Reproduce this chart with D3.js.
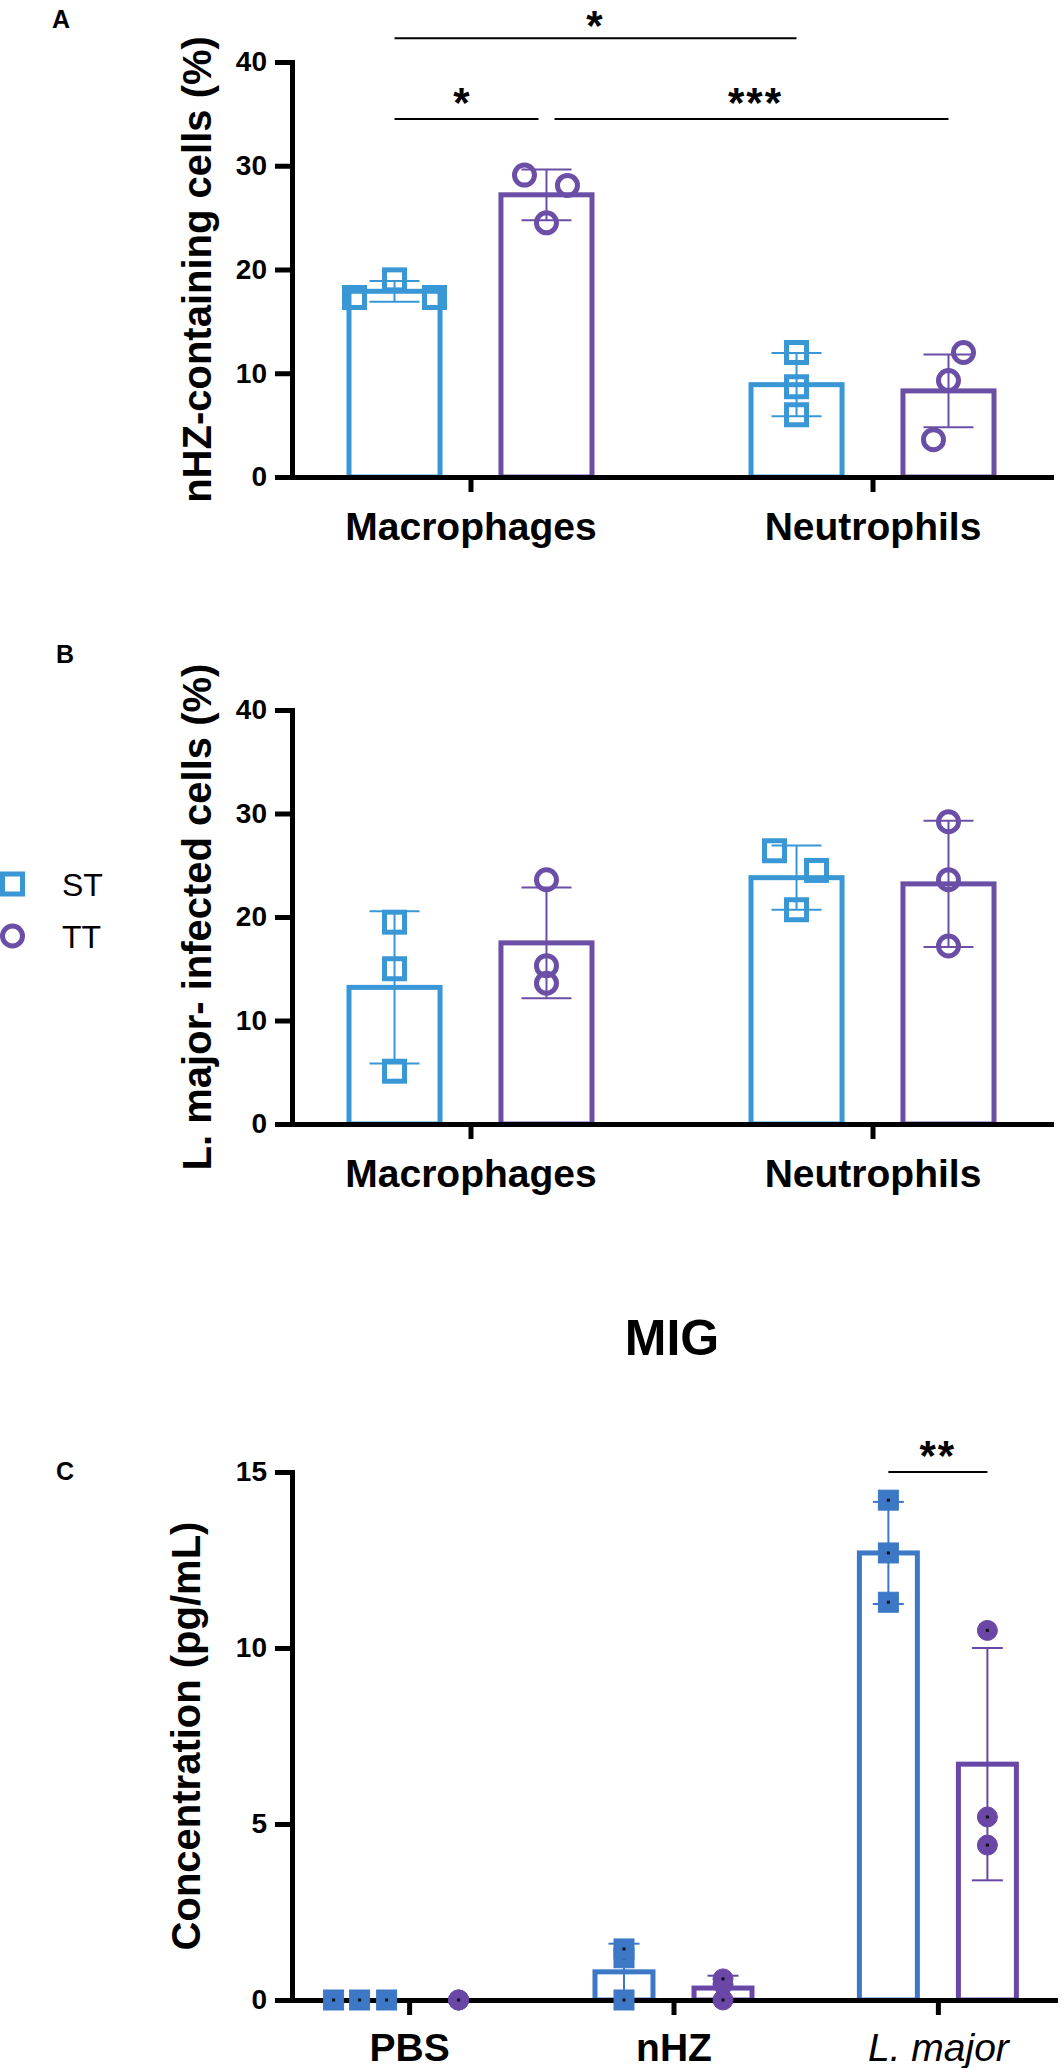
<!DOCTYPE html>
<html>
<head>
<meta charset="utf-8">
<script src="https://cdn.jsdelivr.net/npm/d3@7"></script>
<style>
  body { margin: 0; background: #fff; }
  svg { display: block; font-family: "Liberation Sans", Arial, Helvetica, sans-serif; }
</style>
</head>
<body>
<svg id="chart" width="1063" height="2068"></svg>
<script>
// ---- data ----
const seriesNames = ["ST", "TT"];
const cellGroups = ["Macrophages", "Neutrophils"];

// A: nHZ-containing cells (%)
const nhzPtsST = [[17.3, 19.0, 17.3], [12.0, 8.7, 6.0]];
const nhzPtsTT = [[29.1, 28.1, 24.5], [12.0, 9.3, 3.6]];
const nhzMeanST = [17.9, 8.9];
const nhzSdST = [1.0, 3.05];
const nhzMeanTT = [27.2, 8.3];
const nhzSdTT = [2.45, 3.5];

// B: L. major- infected cells (%)
const infPtsST = [[19.5, 15.0, 5.1], [26.4, 24.5, 20.7]];
const infPtsTT = [[23.6, 15.3, 13.6], [29.2, 23.6, 17.2]];
const infMeanST = [13.2, 23.8];
const infSdST = [7.35, 3.1];
const infMeanTT = [17.5, 23.2];
const infSdTT = [5.35, 6.1];

// C: MIG concentration (pg/mL)
const migGroups = ["PBS", "nHZ", "L. major"];
const migPtsST = [[0, 0, 0], [0, 1.2, 1.45], [14.2, 12.7, 11.3]];
const migPtsTT = [[0, 0, 0], [0, 0.45, 0.6], [10.5, 5.2, 4.4]];
const migMeanST = [0, 0.8, 12.7];
const migSdST = [0, 0.8, 1.45];
const migMeanTT = [0, 0.34, 6.7];
const migSdTT = [0, 0.35, 3.3];

const ticks40 = [0, 10, 20, 30, 40];
const ticks15 = [0, 5, 10, 15];

// significance brackets (level in data units)
const sigA = [
  {a: ["Macrophages", "ST"], b: ["Neutrophils", "ST"], level: 42.3, text: "*", trim: [0, 0]},
  {a: ["Macrophages", "ST"], b: ["Macrophages", "TT"], level: 34.5, text: "*", trim: [0, 8]},
  {a: ["Macrophages", "TT"], b: ["Neutrophils", "TT"], level: 34.5, text: "***", trim: [8, 0]}
];
const sigC = [
  {a: ["L. major", "ST"], b: ["L. major", "TT"], level: 15, text: "**", trim: [0, 0]}
];

// ---- layout / style ----
const blueAB = "#3a97d5";
const purpleAB = "#6b4fa6";
const blueC = "#3c78c6";
const purpleC = "#6a47a6";
const fontBold = "bold";

const svg = d3.select("#chart");
svg.append("rect").attr("width", 1063).attr("height", 2068).attr("fill", "#fff");

function drawPanel(p) {
  const g = svg.append("g");
  const y = d3.scaleLinear().domain(p.yDomain).range(p.yRange);
  const x = d3.scalePoint().domain(p.groups).range(p.xRange).padding(p.outerPad);
  const xs = d3.scaleBand().domain(seriesNames)
    .range([-p.groupWidth / 2, p.groupWidth / 2]).paddingInner(p.innerPad);
  const cx = (grp, name) => x(grp) + xs(name) + xs.bandwidth() / 2;
  const sw = p.barStroke;

  // bars
  p.series.forEach(s => {
    p.groups.forEach((grp, gi) => {
      const m = s.mean[gi];
      if (m <= 0) return;
      g.append("rect")
        .attr("x", x(grp) + xs(s.name) + sw / 2)
        .attr("y", y(m))
        .attr("width", xs.bandwidth() - sw)
        .attr("height", y(0) - y(m))
        .attr("fill", "none")
        .attr("stroke", s.color)
        .attr("stroke-width", sw);
    });
  });

  // error bars (mean +/- SD)
  p.series.forEach(s => {
    p.groups.forEach((grp, gi) => {
      const m = s.mean[gi], sd = s.sd[gi];
      if (sd <= 0) return;
      const c = cx(grp, s.name);
      const top = y(m + sd), bot = y(Math.max(0, m - sd));
      g.append("line").attr("x1", c).attr("x2", c).attr("y1", top).attr("y2", bot)
        .attr("stroke", s.color).attr("stroke-width", 2);
      [m + sd, m - sd].forEach(v => {
        if (v < 0) return;
        g.append("line")
          .attr("x1", c - p.capWidth / 2).attr("x2", c + p.capWidth / 2)
          .attr("y1", y(v)).attr("y2", y(v))
          .attr("stroke", s.color).attr("stroke-width", 2);
      });
    });
  });

  // axes
  const yAxis = d3.axisLeft(y).tickValues(p.ticks).tickSize(17).tickPadding(8).tickSizeOuter(0);
  const ya = g.append("g").attr("transform", `translate(${p.xRange[0]},0)`).call(yAxis);
  ya.select(".domain").attr("stroke", "#000").attr("stroke-width", 5).attr("stroke-linecap", "square");
  ya.selectAll(".tick line").attr("stroke", "#000").attr("stroke-width", 5);
  ya.selectAll(".tick text").attr("fill", "#000").attr("font-size", 28)
    .attr("font-weight", fontBold).attr("font-family", "'Liberation Sans', Arial, sans-serif");

  const xAxis = d3.axisBottom(x).tickSize(15).tickPadding(p.labelPad).tickSizeOuter(0);
  const xa = g.append("g").attr("transform", `translate(0,${y(0)})`).call(xAxis);
  xa.select(".domain").attr("stroke", "#000").attr("stroke-width", 5).attr("stroke-linecap", "square");
  xa.selectAll(".tick line").attr("stroke", "#000").attr("stroke-width", 5);
  xa.selectAll(".tick text").attr("fill", "#000").attr("font-size", 39)
    .attr("font-family", "'Liberation Sans', Arial, sans-serif")
    .attr("font-weight", d => p.italic.includes(d) ? "normal" : fontBold)
    .attr("font-style", d => p.italic.includes(d) ? "italic" : "normal");

  // data points
  p.series.forEach(s => {
    p.groups.forEach((grp, gi) => {
      s.pts[gi].forEach((v, k) => {
        const px = cx(grp, s.name) + s.jitter[gi][k];
        const py = y(v);
        if (s.shape === "square") {
          g.append("rect")
            .attr("x", px - p.sym / 2).attr("y", py - p.sym / 2)
            .attr("width", p.sym).attr("height", p.sym)
            .attr("fill", p.filled ? s.color : "none")
            .attr("stroke", s.color).attr("stroke-width", p.symStroke);
        } else {
          g.append("circle")
            .attr("cx", px).attr("cy", py).attr("r", p.sym / 2)
            .attr("fill", p.filled ? s.color : "none")
            .attr("stroke", s.color).attr("stroke-width", p.symStroke);
        }
        if (p.filled) {
          g.append("rect").attr("x", px - 1.5).attr("y", py - 1.5)
            .attr("width", 3).attr("height", 3).attr("fill", "#111");
        }
      });
    });
  });

  // significance brackets
  p.sig.forEach(b => {
    const x1 = cx(b.a[0], b.a[1]) + b.trim[0];
    const x2 = cx(b.b[0], b.b[1]) - b.trim[1];
    const ly = y(b.level);
    g.append("line").attr("x1", x1).attr("x2", x2).attr("y1", ly).attr("y2", ly)
      .attr("stroke", "#000").attr("stroke-width", 2);
    // keep the star's text box inside the page
    g.append("text").attr("x", (x1 + x2) / 2 + (b.trim[0] - b.trim[1]) / 2).attr("y", Math.max(ly - 2, 40))
      .attr("text-anchor", "middle").attr("font-size", 42).attr("font-weight", fontBold)
      .attr("letter-spacing", 2)
      .text(b.text);
  });

  // y title
  g.append("text")
    .attr("transform", `translate(${p.titleX},${(p.yRange[0] + p.yRange[1]) / 2}) rotate(-90)`)
    .attr("text-anchor", "middle").attr("font-size", 40).attr("font-weight", fontBold)
    .text(p.title);

  // panel letter
  g.append("text").attr("x", p.letterPos[0]).attr("y", p.letterPos[1])
    .attr("font-size", 25).attr("font-weight", fontBold).text(p.letter);
}

const jitterZero = [[0, 0, 0], [0, 0, 0], [0, 0, 0]];

drawPanel({
  letter: "A", letterPos: [52, 28],
  title: "nHZ-containing cells (%)", titleX: 211,
  groups: cellGroups, yDomain: [0, 40], yRange: [477, 62], ticks: ticks40,
  xRange: [292, 1051], outerPad: 0.444, groupWidth: 248, innerPad: 0.368,
  barStroke: 5, capWidth: 50, sym: 20, symStroke: 5, filled: false, labelPad: 20, italic: [],
  series: [
    {name: "ST", color: blueAB, shape: "square", mean: nhzMeanST, sd: nhzSdST, pts: nhzPtsST,
     jitter: [[-40, 0, 40], [0, 0, 0]]},
    {name: "TT", color: purpleAB, shape: "circle", mean: nhzMeanTT, sd: nhzSdTT, pts: nhzPtsTT,
     jitter: [[-22, 21, 0], [15, 0, -15]]}
  ],
  sig: sigA
});

drawPanel({
  letter: "B", letterPos: [56, 663],
  title: "L. major- infected cells (%)", titleX: 211,
  groups: cellGroups, yDomain: [0, 40], yRange: [1124, 710], ticks: ticks40,
  xRange: [292, 1051], outerPad: 0.444, groupWidth: 248, innerPad: 0.368,
  barStroke: 5, capWidth: 50, sym: 20, symStroke: 5, filled: false, labelPad: 20, italic: [],
  series: [
    {name: "ST", color: blueAB, shape: "square", mean: infMeanST, sd: infSdST, pts: infPtsST,
     jitter: [[0, 0, 0], [-22, 20, 0]]},
    {name: "TT", color: purpleAB, shape: "circle", mean: infMeanTT, sd: infSdTT, pts: infPtsTT,
     jitter: jitterZero}
  ],
  sig: []
});

drawPanel({
  letter: "C", letterPos: [56, 1480],
  title: "Concentration (pg/mL)", titleX: 200,
  groups: migGroups, yDomain: [0, 15], yRange: [2000, 1472], ticks: ticks15,
  xRange: [292, 1055], outerPad: 0.443, groupWidth: 162, innerPad: 0.364,
  barStroke: 5, capWidth: 31, sym: 20, symStroke: 1, filled: true, labelPad: 18, italic: ["L. major"],
  series: [
    {name: "ST", color: blueC, shape: "square", mean: migMeanST, sd: migSdST, pts: migPtsST,
     jitter: [[-26, 0, 27], [0, 0, 0], [0, 0, 0]]},
    {name: "TT", color: purpleC, shape: "circle", mean: migMeanTT, sd: migSdTT, pts: migPtsTT,
     jitter: jitterZero}
  ],
  sig: sigC
});

// MIG title
svg.append("text").attr("x", 672).attr("y", 1355).attr("text-anchor", "middle")
  .attr("font-size", 50).attr("font-weight", fontBold).text("MIG");

// legend
const legend = svg.append("g");
const legendItems = [
  {name: "ST", color: blueAB, shape: "square"},
  {name: "TT", color: purpleAB, shape: "circle"}
];
legendItems.forEach((d, i) => {
  const ly = 884 + i * 52;
  if (d.shape === "square") {
    legend.append("rect").attr("x", 2.5).attr("y", ly - 10).attr("width", 20).attr("height", 20)
      .attr("fill", "none").attr("stroke", d.color).attr("stroke-width", 5);
  } else {
    legend.append("circle").attr("cx", 12.5).attr("cy", ly).attr("r", 10)
      .attr("fill", "none").attr("stroke", d.color).attr("stroke-width", 5);
  }
  legend.append("text").attr("x", 62).attr("y", ly + 12).attr("font-size", 32).text(d.name);
});
</script>
</body>
</html>
